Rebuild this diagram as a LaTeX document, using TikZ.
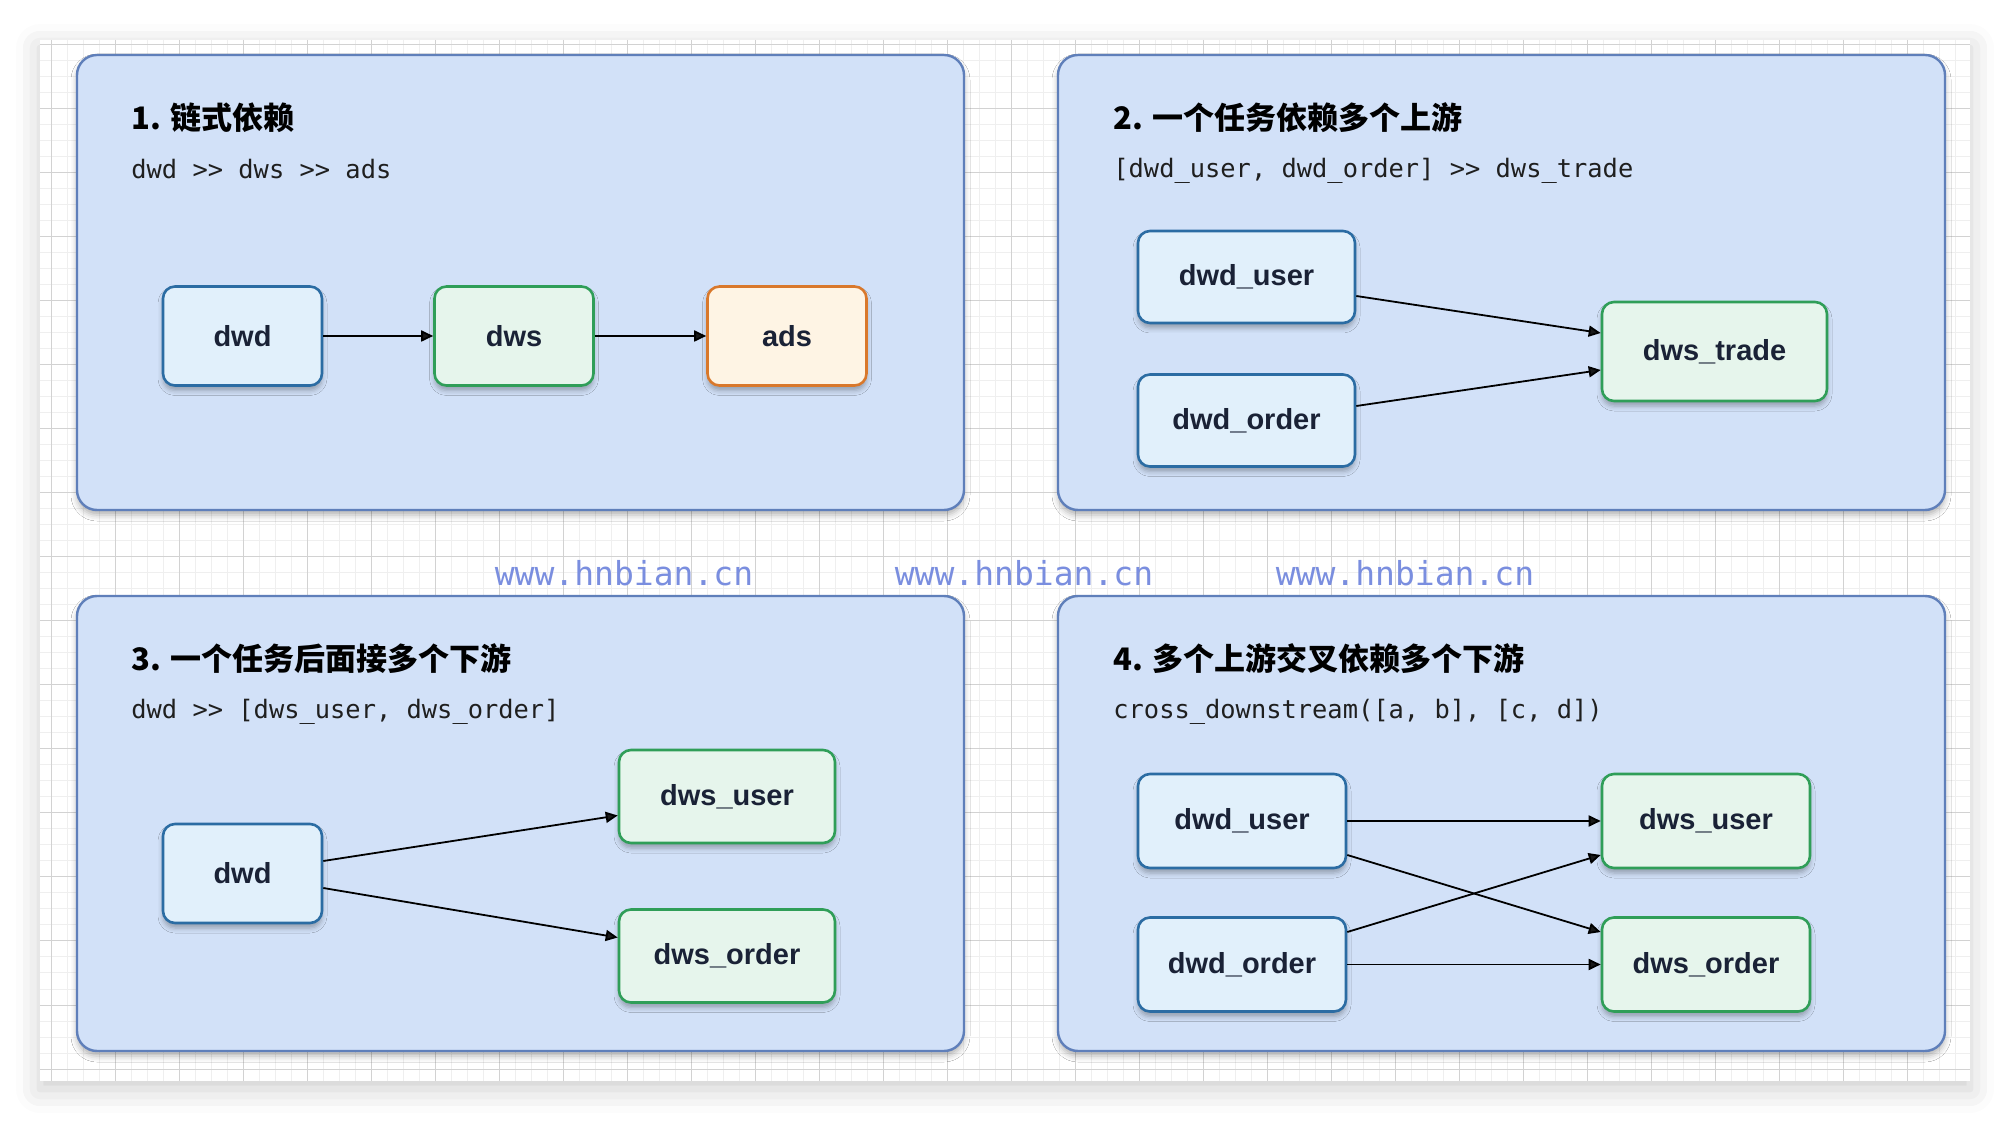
\documentclass[tikz,border=0pt]{standalone}
\usepackage{fontspec}
\setmainfont{Liberation Sans}
\newfontfamily\cjk{Noto Sans CJK SC}
\newfontfamily\codefont{DejaVu Sans Mono}
\usetikzlibrary{arrows.meta,shadows.blur}
\definecolor{panelfill}{HTML}{D2E1F8}
\definecolor{panelline}{HTML}{5F7FBA}
\definecolor{dwdfill}{HTML}{E1F0FB}
\definecolor{dwdline}{HTML}{2B6CA3}
\definecolor{dwsfill}{HTML}{E6F5EC}
\definecolor{dwsline}{HTML}{2F9E58}
\definecolor{adsfill}{HTML}{FEF4E4}
\definecolor{adsline}{HTML}{D9782B}
\definecolor{labeltext}{HTML}{1A2236}
\definecolor{codetext}{HTML}{1F1F1F}
\definecolor{wmarktext}{HTML}{7A8EDF}
\definecolor{gridminor}{HTML}{EFEFEF}
\definecolor{gridmajor}{HTML}{D2D2D2}

\begin{document}
\begin{tikzpicture}[x=0.5pt,y=-0.5pt,
    panel/.style={draw=panelline, fill=panelfill, line width=1.2pt, rounded corners=10pt,
      minimum width=443.5pt, minimum height=227.5pt, inner sep=0pt,
      blur shadow={shadow xshift=0pt, shadow yshift=-2.5pt, shadow blur radius=3pt, shadow opacity=30}},
    job/.style={line width=1.3pt, rounded corners=6pt, inner sep=0pt, text=labeltext,
      font=\bfseries\fontsize{14.5}{16}\selectfont,
      blur shadow={shadow xshift=0pt, shadow yshift=-2.5pt, shadow blur radius=2.5pt, shadow opacity=30}},
    dwdbox/.style={job, draw=dwdline, fill=dwdfill},
    dwsbox/.style={job, draw=dwsline, fill=dwsfill},
    adsbox/.style={job, draw=adsline, fill=adsfill},
    title/.style={anchor=west, inner sep=0pt, font=\cjk\bfseries\fontsize{15.5}{18}\selectfont},
    code/.style={anchor=west, inner sep=0pt, text=codetext, font=\codefont\fontsize{12.7}{15}\selectfont},
    wmark/.style={text=wmarktext, font=\codefont\fontsize{16.5}{20}\selectfont},
    dep/.style={-{Triangle[length=6pt,width=5.5pt]}, line width=0.9pt}]
    \useasboundingbox (0,0) rectangle (2010,1122);
    % page with grid
    \fill[white, blur shadow={shadow xshift=0pt, shadow yshift=-4pt, shadow blur radius=12pt, shadow opacity=20}] (40,40) rectangle (1970,1081);
    \foreach \gx in {51,67,...,1970} \draw[gridminor, line width=0.5pt] (\gx,40) -- (\gx,1081);
    \foreach \gy in {45,61,...,1081} \draw[gridminor, line width=0.5pt] (40,\gy) -- (1970,\gy);
    \foreach \gx in {51,115,...,1970} \draw[gridmajor, line width=0.5pt] (\gx,40) -- (\gx,1081);
    \foreach \gy in {45,109,...,1081} \draw[gridmajor, line width=0.5pt] (40,\gy) -- (1970,\gy);

    % 1. chain
    \node[panel] (p1) at (520.5,282.5) {};
    \node[title] (t1) at (131,118) {1. 链式依赖};
    \node[code] (c1) at (131,169) {dwd >> dws >> ads};
    \node[dwdbox, minimum width=79.5pt, minimum height=49.5pt] (dwd1) at (242.5,336) {dwd};
    \node[dwsbox, minimum width=79.5pt, minimum height=49.5pt] (dws1) at (514,336) {dws};
    \node[adsbox, minimum width=79.5pt, minimum height=49.5pt] (ads1) at (787,336) {ads};
    \draw[dep] (dwd1) -- (dws1);
    \draw[dep] (dws1) -- (ads1);

    % 2. many upstream
    \node[panel] (p2) at (1501.5,282.5) {};
    \node[title] (t2) at (1113,118) {2. 一个任务依赖多个上游};
    \node[code] (c2) at (1113,171) {[dwd\_user, dwd\_order] >> dws\_trade};
    \node[dwdbox, minimum width=108.5pt, minimum height=46pt] (user2) at (1246.5,277) {dwd\_user};
    \node[dwdbox, minimum width=108.5pt, minimum height=46pt] (order2) at (1246.5,420.5) {dwd\_order};
    \node[dwsbox, minimum width=112.5pt, minimum height=49.5pt] (trade2) at (1714.5,351.5) {dws\_trade};
    \draw[dep] ([yshift=-9.5pt]user2.east) -- ([yshift=9.25pt]trade2.west);
    \draw[dep] ([yshift=7.25pt]order2.east) -- ([yshift=-9.25pt]trade2.west);

    \node[wmark] (w1) at (624,573) {www.hnbian.cn};
    \node[wmark] (w2) at (1024,573) {www.hnbian.cn};
    \node[wmark] (w3) at (1405,573) {www.hnbian.cn};

    % 3. many downstream
    \node[panel] (p3) at (520.5,823.5) {};
    \node[title] (t3) at (131,659) {3. 一个任务后面接多个下游};
    \node[code] (c3) at (131,712) {dwd >> [dws\_user, dws\_order]};
    \node[dwdbox, minimum width=79.5pt, minimum height=49.5pt] (dwd3) at (242.5,873.5) {dwd};
    \node[dwsbox, minimum width=108pt, minimum height=46.5pt] (user3) at (727,796.5) {dws\_user};
    \node[dwsbox, minimum width=108pt, minimum height=46.5pt] (order3) at (727,956) {dws\_order};
    \draw[dep] ([yshift=6.25pt]dwd3.east) -- ([yshift=-9.5pt]user3.west);
    \draw[dep] ([yshift=-7.25pt]dwd3.east) -- ([yshift=9.25pt]order3.west);

    % 4. cross
    \node[panel] (p4) at (1501.5,823.5) {};
    \node[title] (t4) at (1113,659) {4. 多个上游交叉依赖多个下游};
    \node[code] (c4) at (1113,712) {cross\_downstream([a, b], [c, d])};
    \node[dwdbox, minimum width=104pt, minimum height=47pt] (a4) at (1242,821) {dwd\_user};
    \node[dwdbox, minimum width=104pt, minimum height=47pt] (b4) at (1242,964.5) {dwd\_order};
    \node[dwsbox, minimum width=104pt, minimum height=47pt] (c4n) at (1706,821) {dws\_user};
    \node[dwsbox, minimum width=104pt, minimum height=47pt] (d4) at (1706,964.5) {dws\_order};
    \draw[dep] (a4) -- (c4n);
    \draw[dep] (b4) -- (d4);
    \draw[dep] ([yshift=-17pt]a4.east) -- ([yshift=16.25pt]d4.west);
    \draw[dep] ([yshift=16.25pt]b4.east) -- ([yshift=-17pt]c4n.west);
\end{tikzpicture}
\end{document}
